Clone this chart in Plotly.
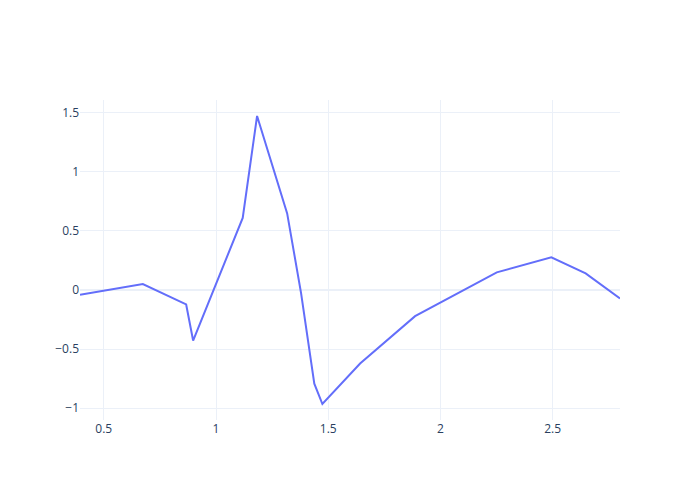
import plotly.graph_objects as go

x_values = [0.394, 0.674, 0.867, 0.898, 1.119, 1.183, 1.317, 1.379, 1.438, 1.474,
            1.642, 1.887, 2.251, 2.494, 2.647, 2.800]
y_values = [-0.041, 0.049, -0.123, -0.428, 0.608, 1.469, 0.646, -0.027, -0.792, -0.964,
            -0.622, -0.222, 0.148, 0.275, 0.140, -0.072]

fig = go.Figure(go.Scatter(x=x_values, y=y_values, mode="lines"))
fig.update_layout(
    template="plotly_white",
    width=684,
    height=484,
    margin=dict(l=72, r=72, t=92, b=72),
)
fig.write_html("out.html")
